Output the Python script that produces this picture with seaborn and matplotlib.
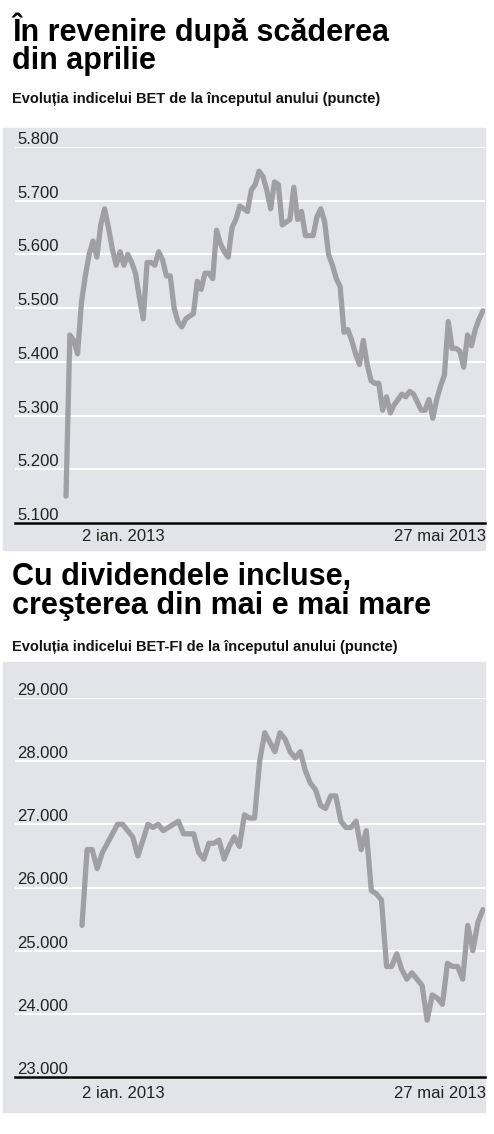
import numpy as np
import pandas as pd
import matplotlib
matplotlib.use("Agg")
import matplotlib.pyplot as plt
from matplotlib.patches import Rectangle
import seaborn as sns

bet = [5150, 5450, 5440, 5415, 5510, 5560, 5600, 5625, 5595, 5655, 5685, 5650, 5610, 5580, 5605, 5580,
       5600, 5585, 5565, 5520, 5480, 5585, 5585, 5580, 5605, 5590, 5560, 5560, 5500, 5475, 5465, 5480,
       5485, 5490, 5550, 5535, 5565, 5565, 5555, 5645, 5620, 5605, 5595, 5650, 5665, 5690, 5685, 5680,
       5720, 5730, 5755, 5745, 5720, 5685, 5735, 5730, 5655, 5660, 5665, 5725, 5665, 5680, 5635, 5635,
       5635, 5670, 5685, 5660, 5600, 5580, 5555, 5540, 5455, 5460, 5440, 5415, 5395, 5440, 5395, 5365,
       5360, 5360, 5310, 5335, 5305, 5320, 5330, 5340, 5335, 5345, 5340, 5325, 5310, 5310, 5330, 5295,
       5330, 5355, 5375, 5475, 5425, 5425, 5420, 5390, 5450, 5430, 5460, 5480, 5495]
betfi = [25400, 26600, 26600, 26300, 26550, 26700, 26850, 27000, 27000, 26900, 26800, 26500, 26750, 27000,
         26950, 27000, 26900, 26950, 27000, 27050, 26850, 26850, 26850, 26550, 26450, 26700, 26700, 26750,
         26450, 26650, 26800, 26650, 27150, 27100, 27100, 28000, 28450, 28300, 28150, 28450, 28350, 28150,
         28050, 28150, 27850, 27650, 27550, 27300, 27250, 27450, 27450, 27050, 26950, 26950, 27050, 26600,
         26900, 25950, 25900, 25800, 24750, 24750, 24950, 24700, 24550, 24650, 24550, 24450, 23900, 24300,
         24250, 24150, 24800, 24750, 24750, 24550, 25400, 25000, 25450, 25650]
bet_ticks = [5100, 5200, 5300, 5400, 5500, 5600, 5700, 5800]
betfi_ticks = [23000, 24000, 25000, 26000, 27000, 28000, 29000]
x_labels = ["2 ian. 2013", "27 mai 2013"]
titles = ["În revenire după scăderea\ndin aprilie", "Cu dividendele incluse,\ncreşterea din mai e mai mare"]
subtitles = ["Evoluția indicelui BET de la începutul anului (puncte)",
             "Evoluția indicelui BET-FI de la începutul anului (puncte)"]

sns.set_theme(style="white")
plt.rcParams['font.family'] = ["Liberation Sans", "DejaVu Sans"]

W, H = 494, 1134
fig = plt.figure(figsize=(W/100, H/100), dpi=100)
fig.patch.set_facecolor("white")
bg = "#e3e4e9"
line_col = "#a0a0a4"

def fx(px): return px / W
def fy(py): return 1 - py / H

def fmt(v): return f"{v:,}".replace(",", ".")

def panel(vals, ticks, bg_top, bg_bot, y_top_px, y_bot_px, x0_px, title, sub, title_y, sub_y, lab_y, lab_x0):
    fig.patches.append(Rectangle((fx(3), fy(bg_bot)), fx(482), (bg_bot-bg_top)/H,
                                 transform=fig.transFigure, color=bg, zorder=-10))
    fig.text(fx(12), fy(title_y), title, fontsize=22, fontweight="bold", va="top", ha="left",
             linespacing=0.95, color="black")
    fig.text(fx(12), fy(sub_y), sub, fontsize=10.5, fontweight="bold", va="top", ha="left", color="#111")
    ax_l, ax_r = 15, 485
    ax = fig.add_axes([fx(ax_l), fy(y_bot_px), fx(ax_r-ax_l), (y_bot_px-y_top_px)/H])
    ax.set_zorder(5)
    ax.set_facecolor("none")
    n = len(vals)
    d = pd.DataFrame({"i": np.arange(n), "v": vals})
    sns.lineplot(data=d, x="i", y="v", ax=ax, color=line_col, linewidth=3.8)
    ppx = (n - 1) / (483 - x0_px)
    ax.set_xlim(-(x0_px - ax_l) * ppx, (n - 1) + 2 * ppx)
    ax.set_ylim(ticks[0], ticks[-1])
    ax.set_yticks(ticks)
    ax.set_yticklabels([])
    ax.set_xticks([])
    ax.set_xlabel(""); ax.set_ylabel("")
    ax.tick_params(length=0)
    ax.grid(axis="y", color="white", linewidth=1.5)
    ax.set_axisbelow(True)
    for s in ["top", "left", "right"]:
        ax.spines[s].set_visible(False)
    ax.spines["bottom"].set_color("black")
    ax.spines["bottom"].set_linewidth(1.8)
    for t in ticks:
        ax.text(0.005, t, fmt(t), transform=ax.get_yaxis_transform(), fontsize=12,
                va="bottom", ha="left", color="#222")
    fig.text(fx(lab_x0), fy(lab_y), x_labels[0], fontsize=12, ha="center", va="center", color="#222")
    fig.text(fx(440), fy(lab_y), x_labels[1], fontsize=12, ha="center", va="center", color="#222")

panel(bet, bet_ticks, 128, 550, 147, 523, 66, titles[0], subtitles[0], 12, 92, 537, 123)
panel(betfi, betfi_ticks, 662, 1112, 698, 1077, 82, titles[1], subtitles[1], 562, 640, 1093, 123)

fig.savefig("out.png", dpi=100)
